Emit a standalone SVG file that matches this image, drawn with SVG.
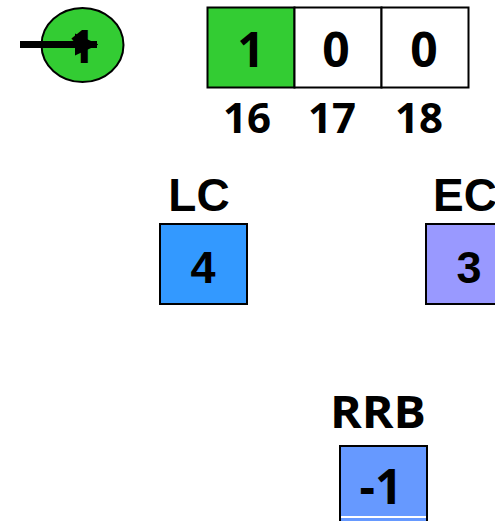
<svg xmlns="http://www.w3.org/2000/svg" width="495" height="521" viewBox="0 0 495 521">
<style>
.os{font-family:"Open Sans","Noto Sans",sans-serif;font-weight:700;text-anchor:middle;fill:#000}
.ar{font-family:"Liberation Sans",Arial,sans-serif;font-weight:700;text-anchor:middle;fill:#000}
.box{stroke:#000;stroke-width:2}
</style>
<defs>
<marker id="ah" markerWidth="3.4" markerHeight="3.2" refX="3.2" refY="1.6" orient="auto" markerUnits="strokeWidth">
<path d="M0,0 L3.4,1.6 L0,3.2 Z" fill="#000"/>
</marker>
</defs>
<rect width="495" height="521" fill="#fff"/>
<g id="start">
<ellipse cx="82.5" cy="45" rx="41" ry="37" fill="#33cc33" stroke="#000" stroke-width="2"/>
<text class="os" x="82" y="63" font-size="46">1</text>
</g>
<g id="array">
<rect class="box" x="207.5" y="7.5" width="87" height="80" fill="#33cc33"/>
<rect class="box" x="294.5" y="7.5" width="87" height="80" fill="#fff"/>
<rect class="box" x="381.5" y="7.5" width="87" height="80" fill="#fff"/>
<text class="os" x="251" y="67" font-size="48">1</text>
<text class="os" x="336" y="67" font-size="48">0</text>
<text class="os" x="424" y="67" font-size="48">0</text>
<text class="os" x="247" y="133" font-size="42">16</text>
<text class="os" x="332" y="133" font-size="42">17</text>
<text class="os" x="419" y="133" font-size="42">18</text>
</g>
<g id="lc">
<text class="ar" x="199" y="211" font-size="46">LC</text>
<rect class="box" x="160" y="224" width="87" height="80" fill="#3399ff"/>
<text class="ar" x="203" y="283" font-size="45">4</text>
</g>
<g id="ec">
<text class="ar" x="465" y="211" font-size="46">EC</text>
<rect class="box" x="426" y="224" width="87" height="80" fill="#9999ff"/>
<text class="ar" x="469" y="283" font-size="45">3</text>
</g>
<g id="rrb">
<text class="os" x="378" y="428" font-size="44" textLength="96" lengthAdjust="spacingAndGlyphs">RRB</text>
<rect class="box" x="340" y="446" width="87" height="80" fill="#6699ff"/>
<line x1="341" y1="517" x2="426" y2="517" stroke="#fff" stroke-width="2"/>
<text class="os" x="381" y="504" font-size="48">-1</text>
</g>
<g id="connectors">
<line x1="20" y1="44.5" x2="97" y2="44.5" stroke="#000" stroke-width="7" marker-end="url(#ah)"/>
</g>
</svg>
